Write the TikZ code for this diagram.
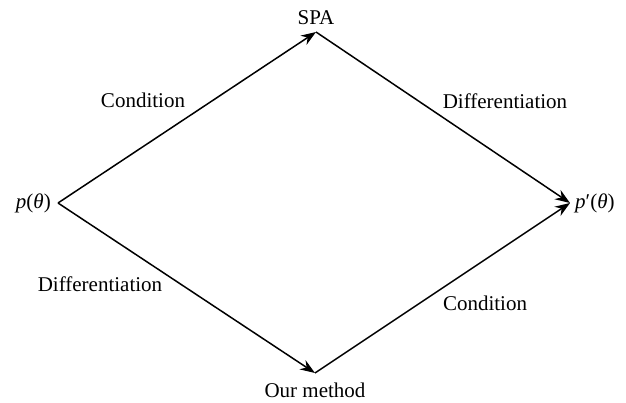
\documentclass[tikz,border=0pt]{standalone}
\usepackage{fontspec}
\setmainfont{Liberation Serif}
\usetikzlibrary{arrows.meta}
\begin{document}
\begin{tikzpicture}[x=1pt,y=1pt,
  lbl/.style={font=\fontsize{21}{25}\selectfont, inner sep=0pt},
  arr/.style={line width=1.5pt, -{Stealth[length=15pt,width=11pt,inset=5pt]}}]
\useasboundingbox (0,0) rectangle (626,402);
\node[lbl, anchor=east, inner xsep=7pt] (p) at (58,199) {\textit{p}(\textit{θ})};
\node[lbl, anchor=south, inner ysep=7pt, text depth=0pt] (spa) at (316,370) {SPA};
\node[lbl, anchor=north, inner ysep=10pt] (om) at (315,29) {Our method};
\node[lbl, anchor=west, inner xsep=5pt] (pp) at (570,199) {\textit{p}′(\textit{θ})};
\node[lbl, anchor=base] (c1) at (143,294) {Condition};
\node[lbl, anchor=base] (d1) at (505,293) {Differentiation};
\node[lbl, anchor=base] (d2) at (100,111) {Differentiation};
\node[lbl, anchor=base] (c2) at (485,92) {Condition};
\draw[arr] (p.east) -- (spa.south);
\draw[arr] (spa.south) -- (pp.west);
\draw[arr] (p.east) -- (om.north);
\draw[arr] (om.north) -- (pp.west);
\end{tikzpicture}
\end{document}
